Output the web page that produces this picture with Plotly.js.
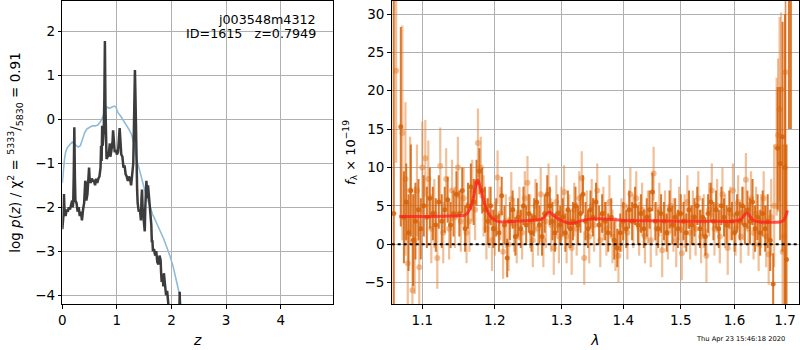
<!DOCTYPE html>
<html>
<head>
<meta charset="utf-8">
<script src="https://cdn.plot.ly/plotly-3.0.1.min.js"></script>
<style>html,body{margin:0;padding:0;background:#fff}#chart{width:800px;height:350px}</style>
</head>
<body>
<div id="chart"></div>
<script>
// ---------- Left panel: log p(z) ----------
const zDark = [0.00,0.01,0.02,0.03,0.04,0.06,0.08,0.10,0.12,0.14,0.16,0.18,0.19,0.20,0.21,0.22,0.23,0.24,0.26,0.28,0.30,0.32,0.34,0.36,0.38,0.40,0.42,0.43,0.44,0.46,0.48,0.49,0.50,0.52,0.54,0.56,0.58,0.60,0.62,0.64,0.66,0.68,0.70,0.71,0.72,0.73,0.74,0.75,0.76,0.77,0.78,0.79,0.80,0.81,0.83,0.85,0.87,0.88,0.90,0.92,0.93,0.94,0.96,0.98,1.00,1.02,1.04,1.05,1.06,1.08,1.10,1.12,1.14,1.16,1.18,1.20,1.22,1.24,1.26,1.28,1.30,1.31,1.32,1.33,1.34,1.35,1.36,1.37,1.38,1.40,1.42,1.44,1.45,1.46,1.47,1.48,1.50,1.51,1.52,1.53,1.54,1.55,1.56,1.57,1.58,1.60,1.62,1.63,1.64,1.65,1.66,1.68,1.70,1.72,1.74,1.76,1.78,1.80,1.81,1.82,1.84,1.85,1.86,1.88,1.90,1.92,1.94,1.96,2.00,2.10,2.14,2.15,2.16];
const logpDark = [-2.5,-2.3,-2.2,-1.7,-2.05,-2.2,-2.05,-2.1,-2.0,-2.05,-1.95,-1.85,-2.0,-1.9,-1.2,-0.18,-1.3,-1.85,-1.9,-2.1,-2.0,-2.2,-2.1,-2.3,-2.05,-1.9,-1.4,-1.45,-1.85,-1.7,-1.3,-1.1,-1.35,-1.45,-1.35,-1.4,-1.4,-1.5,-1.35,-1.45,-1.35,-1.3,-1.1,-0.6,-0.95,-0.15,-0.6,-0.4,-0.2,0.5,1.78,0.3,-0.6,-0.9,-0.85,-0.8,-0.55,-0.85,-0.7,-0.5,-0.25,-0.55,-0.75,-0.7,-0.8,-0.75,-0.45,-0.2,-0.4,-0.8,-0.85,-1.1,-1.05,-1.25,-1.3,-1.4,-1.3,-1.35,-1.5,-1.3,-1.0,-0.3,0.6,1.12,0.5,-0.6,-1.3,-1.6,-1.9,-2.1,-2.05,-2.3,-1.8,-1.6,-2.0,-2.15,-2.3,-2.55,-2.0,-1.5,-1.4,-1.6,-1.8,-1.5,-1.65,-2.0,-2.2,-2.4,-2.8,-2.75,-3.0,-2.95,-3.1,-3.0,-3.25,-3.3,-3.1,-3.2,-3.5,-3.7,-3.55,-3.8,-3.5,-3.7,-4.0,-3.9,-4.3,-4.6,-5.0,-5.0,-4.6,-3.92,-4.6];

const zBlue = [0.00,0.02,0.04,0.06,0.09,0.12,0.15,0.18,0.21,0.25,0.29,0.33,0.37,0.41,0.45,0.50,0.55,0.60,0.65,0.70,0.75,0.79,0.82,0.86,0.90,0.95,0.98,1.02,1.07,1.12,1.17,1.22,1.27,1.32,1.36,1.40,1.45,1.50,1.55,1.60,1.65,1.73,1.80,1.85,1.91,1.97,2.03,2.08,2.12,2.15,2.18];
const logpBlue = [-1.45,-1.1,-0.9,-0.75,-0.65,-0.6,-0.55,-0.52,-0.55,-0.6,-0.63,-0.6,-0.45,-0.3,-0.22,-0.18,-0.15,-0.15,-0.13,-0.05,0.07,0.22,0.28,0.25,0.27,0.3,0.28,0.15,0.07,-0.02,-0.12,-0.23,-0.35,-0.6,-0.9,-1.1,-1.35,-1.6,-1.8,-1.95,-2.15,-2.37,-2.55,-2.7,-2.9,-3.1,-3.35,-3.6,-3.8,-4.0,-4.35];

// ---------- Right panel: spectrum ----------
const lamA = [1.063,1.072,1.076,1.079,1.082,1.085,1.088,1.091,1.095,1.098,1.102,1.106,1.110,1.114,1.118,1.122,1.126,1.130,1.134,1.138,1.142,1.146,1.150,1.154,1.158,1.162,1.166,1.170,1.174,1.178,1.182,1.186,1.190,1.194,1.198,1.202,1.206,1.210,1.214,1.218,1.222,1.226,1.230,1.234,1.238,1.242,1.246,1.250,1.254,1.258,1.262,1.266,1.270,1.274,1.278,1.282,1.286,1.290,1.294,1.298,1.302,1.306,1.310,1.314,1.318,1.322,1.326,1.330,1.334,1.338,1.342,1.346,1.350,1.355,1.360,1.365,1.370,1.375,1.380,1.385,1.390,1.395,1.400,1.405,1.410,1.415,1.420,1.425,1.430,1.435,1.440,1.445,1.450,1.455,1.460,1.465,1.470,1.475,1.480,1.485,1.490,1.495,1.500,1.505,1.510,1.515,1.520,1.525,1.530,1.535,1.540,1.545,1.550,1.555,1.560,1.565,1.570,1.575,1.580,1.585,1.590,1.595,1.600,1.605,1.610,1.615,1.620,1.625,1.630,1.635,1.640,1.645,1.650,1.655,1.660,1.665,1.670,1.676,1.685,1.690,1.695,1.700,1.703,1.708,1.712];
const fluxA = [4,15.3,3.5,5.5,1.5,7,0.5,3,4.5,2,5,3.5,6,4,2.5,5.5,3,4.5,5.8,2.5,4,6.5,4,7,2,5,7.5,5.5,8,9.5,7,4.5,3,5,2,3.5,1.5,6.3,2.5,-1.8,3,4.5,1,3.5,2,5,2.5,4,1.5,3.5,5.5,2.5,1,4,6.5,5,3,1.5,4,2.5,3.5,1.5,4.5,2,3,5,2.5,4,6.5,3,2,4.5,3.5,5.5,2.5,4,3,1.5,3.5,0.5,-0.5,1.5,3,2,4.5,3,5,2.5,4,2,3.5,4.5,6.8,3,2,4,3,1.5,4.5,2.5,3.5,2,4,3,1.5,4.5,2.5,3.5,5,2,3.5,1,4,5.5,3,4.5,2,5,3.5,2.5,4.5,3,1.5,4,3,5,2.5,4.5,3,5.5,2,3.5,1.5,4,2,3,0.5,-5.2,12.5,10.5,14,10,-2,40,45];
const errA = [40,13,6,5,5,6,6,5,4,4,4,4,4,3.5,3.5,3.5,3.5,3,3,3,3,3,3,3,3,3,3,3,3,3,3,3,3,2.5,2.5,2.5,2.5,2.5,2.5,2.5,2.5,2.5,2.5,2.5,2.5,2.5,2.5,2.5,2.5,2.5,2.5,2.5,2.5,2.5,2.5,2.5,2.5,2.5,2.5,2.5,2.5,2.5,2.5,2.5,2.5,2.5,2.5,2.5,2.5,2.5,2.5,2.5,2.5,2.5,2.5,2.5,2.5,2.5,2.5,2.5,2.5,2.5,2.5,2.5,2.5,2.5,2.5,2.5,2.5,2.5,2.5,2.5,2.5,2.5,2.5,2.5,2.5,2.5,2.5,2.5,2.5,2.5,2.5,2.5,2.5,2.5,2.5,2.5,2.5,2.5,2.5,2.5,2.5,2.5,2.5,2.5,2.5,2.5,2.5,2.5,2.5,2.5,2.5,2.5,2.5,2.5,2.5,2.5,3,3,3,3,3,3,3,3.5,4,4,8,10,15,20,15,25,30];

const lamB = [1.066,1.074,1.078,1.081,1.084,1.087,1.090,1.093,1.096,1.100,1.104,1.108,1.112,1.116,1.120,1.124,1.128,1.132,1.136,1.140,1.144,1.148,1.152,1.156,1.160,1.164,1.168,1.172,1.176,1.180,1.184,1.188,1.192,1.196,1.200,1.204,1.208,1.212,1.216,1.220,1.224,1.228,1.232,1.236,1.240,1.244,1.248,1.252,1.256,1.260,1.264,1.268,1.272,1.276,1.280,1.284,1.288,1.292,1.296,1.300,1.304,1.308,1.312,1.316,1.320,1.324,1.328,1.332,1.336,1.340,1.344,1.348,1.352,1.357,1.362,1.367,1.372,1.377,1.382,1.387,1.392,1.397,1.402,1.407,1.412,1.417,1.422,1.427,1.432,1.437,1.442,1.447,1.452,1.457,1.462,1.467,1.472,1.477,1.482,1.487,1.492,1.497,1.502,1.507,1.512,1.517,1.522,1.527,1.532,1.537,1.542,1.547,1.552,1.557,1.562,1.567,1.572,1.577,1.582,1.587,1.592,1.597,1.602,1.607,1.612,1.617,1.622,1.627,1.632,1.637,1.642,1.647,1.652,1.657,1.662,1.667,1.672,1.678,1.683,1.686,1.689,1.692,1.695,1.698,1.701];
const fluxB = [22.6,14.5,8.5,-2.5,7,-6,0.5,7,-3,10,11.2,8.5,2,4,-1.8,10.2,1.5,8.5,2,7,3.5,10,3,6,1.5,3,7,4.5,13.2,10,5,2,3.5,0.5,2,8.7,4,-1,3,0,5.9,2.5,1,4,1.5,6,8,3,0.5,5,2,6.5,0.5,3,7,2.5,-0.5,5.5,1,4,6.8,1,3,-0.5,4.5,2,6,8.6,-1.8,3.5,1,5,2.5,7,0.5,4,2,5.5,1,0,-1.5,2.5,5,1.5,6.5,3,6,2,4.5,1,3.5,0.5,9.2,2,4.5,-0.8,3.5,1.5,5,2.5,0.5,4,-1.2,3,5.5,1.5,3.5,2,6,1,3,-1.5,4.5,7,2,5,1,6.5,3,-0.5,4,7,2,5.5,1,4,8.4,2,6,1.5,4,0,3,6,1,-1.3,3.5,5,12.7,14.2,17.6,20.2,-1,1,22.4];
const errB = [12,14,10,8,7,6,7,6,6,6,5,5,4.5,4.5,4,5,4,4,4,4,4,4,4,4,4,4,4,4,4.5,4,4,4,4,4,3.5,3.5,3.5,3.5,3.5,3.5,3.5,3.5,3.5,3.5,3.5,3.5,3.5,3.5,3.5,3.5,3.5,3.5,3.5,3.5,3.5,3.5,3.5,3.5,3.5,3.5,3.5,3.5,3.5,3.5,3.5,3.5,3.5,3.5,3.5,3.5,3.5,3.5,3.5,3.5,3.5,3.5,3.5,3.5,3.5,3.5,3.5,3.5,3.5,3.5,3.5,3.5,3.5,3.5,3.5,3.5,3.5,3.5,3.5,3.5,3.5,3.5,3.5,3.5,3.5,3.5,3.5,3.5,3.5,3.5,3.5,3.5,3.5,3.5,3.5,3.5,3.5,3.5,3.5,3.5,3.5,3.5,3.5,3.5,3.5,3.5,3.5,3.5,3.5,3.5,3.5,3.5,3.5,3.5,3.5,3.5,3.5,3.5,3.5,3.5,4,4,5,8,9,10,12,10,14,12,20];

const lamModel = [1.070,1.100,1.130,1.150,1.158,1.165,1.170,1.1755,1.180,1.185,1.190,1.196,1.203,1.210,1.230,1.250,1.270,1.276,1.281,1.287,1.295,1.305,1.315,1.325,1.340,1.360,1.400,1.450,1.500,1.550,1.600,1.612,1.618,1.624,1.630,1.637,1.650,1.670,1.690,1.697,1.701,1.705];
const fluxModel = [3.6,3.6,3.65,3.7,3.8,4.6,6.3,8.4,7.2,5.4,4.2,3.4,3.0,2.9,3.0,3.1,3.3,3.8,4.2,3.8,3.3,2.9,2.7,2.9,3.2,3.3,3.1,3.05,3.0,3.0,3.0,3.2,3.7,4.1,3.6,3.1,2.9,2.85,2.9,3.1,3.6,4.4];

const grid = '#b0b0b0';
const fontFam = 'DejaVu Sans, sans-serif';
const tickSize = 13.5;
const axBase = {
  showgrid: true, gridcolor: grid, gridwidth: 1, zeroline: false,
  showline: true, linecolor: '#000', linewidth: 1, mirror: true,
  ticks: 'outside', ticklen: 3.5, tickwidth: 1, tickcolor: '#000',
  tickfont: {family: fontFam, size: tickSize, color: '#000'}
};

const traces = [
  {x: zBlue, y: logpBlue, xaxis: 'x', yaxis: 'y', mode: 'lines', line: {color: '#8fbbd9', width: 1.6}, hoverinfo: 'skip'},
  {x: zDark, y: logpDark, xaxis: 'x', yaxis: 'y', mode: 'lines', line: {color: 'rgba(50,50,50,0.95)', width: 2.5}, hoverinfo: 'skip'},
  {x: lamB, y: fluxB, xaxis: 'x2', yaxis: 'y2', mode: 'markers',
   marker: {color: 'rgba(228,128,50,0.5)', size: 6},
   error_y: {type: 'data', array: errB, visible: true, color: 'rgba(228,128,50,0.5)', thickness: 2.2, width: 0}},
  {x: lamA, y: fluxA, xaxis: 'x2', yaxis: 'y2', mode: 'markers',
   marker: {color: 'rgba(214,98,8,0.85)', size: 5},
   error_y: {type: 'data', array: errA, visible: true, color: 'rgba(214,98,8,0.85)', thickness: 2, width: 0}},
  {x: lamModel, y: fluxModel, xaxis: 'x2', yaxis: 'y2', mode: 'lines', line: {color: 'rgba(255,30,30,0.75)', width: 3, shape: 'spline'}}
];

const layout = {
  width: 800, height: 350,
  margin: {l: 0, r: 0, t: 1, b: 46},
  paper_bgcolor: '#fff', plot_bgcolor: '#fff',
  showlegend: false,
  font: {family: fontFam, color: '#000'},
  xaxis: Object.assign({}, axBase, {
    domain: [0.0779, 0.4166], range: [0, 4.963], tickvals: [0,1,2,3,4],
    title: {text: '<i>z</i>', font: {family: fontFam, size: 14}, standoff: 8}
  }),
  yaxis: Object.assign({}, axBase, {
    range: [-4.2, 2.69], tickvals: [-4,-3,-2,-1,0,1,2],
    title: {text: 'log <i>p</i>(<i>z</i>) / χ<sup>2</sup> = <sup>5333</sup>/<sub>5830</sub> = 0.91', font: {family: fontFam, size: 13.5, weight: 'normal'}, standoff: 11}
  }),
  xaxis2: Object.assign({}, axBase, {
    domain: [0.4896, 0.9988], type: 'log', range: [0.02544, 0.23775],
    tickvals: [1.1,1.2,1.3,1.4,1.5,1.6,1.7], ticktext: ['1.1','1.2','1.3','1.4','1.5','1.6','1.7'],
    anchor: 'y2',
    title: {text: '<i>λ</i>', font: {family: fontFam, size: 14}, standoff: 8}
  }),
  yaxis2: Object.assign({}, axBase, {
    range: [-7.8, 31.7], tickvals: [-5,0,5,10,15,20,25,30], anchor: 'x2',
    title: {text: '<i>f</i><sub>λ</sub> × 10<sup>−19</sup>', font: {family: fontFam, size: 13, weight: 'normal'}, standoff: 6}
  }),
  shapes: [
    {type: 'line', xref: 'x2 domain', yref: 'y2', x0: 0, x1: 1, y0: 0, y1: 0, line: {color: '#000', width: 2, dash: 'dot'}}
  ],
  annotations: [
    {xref: 'x domain', yref: 'y domain', x: 0.945, y: 0.94, xanchor: 'right', yanchor: 'middle', showarrow: false, text: 'j003548m4312', font: {family: fontFam, size: 12.7}},
    {xref: 'x domain', yref: 'y domain', x: 0.945, y: 0.892, xanchor: 'right', yanchor: 'middle', showarrow: false, text: 'ID=1615\u00a0\u00a0\u00a0z=0.7949', font: {family: fontFam, size: 12.7}},
    {xref: 'paper', yref: 'paper', x: 0.984, y: -0.1155, xanchor: 'right', yanchor: 'middle', showarrow: false, text: 'Thu Apr 23 15:46:18 2020', font: {family: fontFam, size: 6.7}}
  ]
};

Plotly.newPlot('chart', traces, layout, {displayModeBar: false, staticPlot: true});
</script>
</body>
</html>
